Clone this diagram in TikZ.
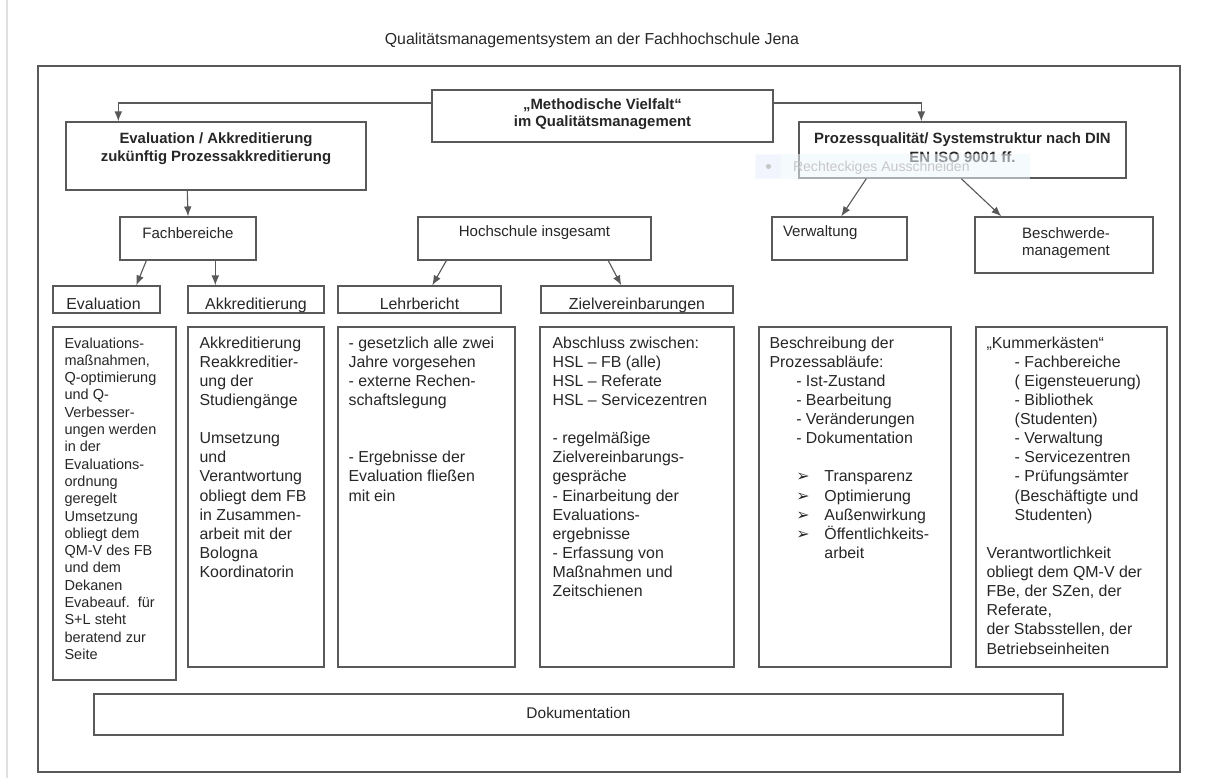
\documentclass[tikz,border=0pt]{standalone}
\usepackage{fontspec}
\setmainfont{Liberation Sans}
\newfontfamily\symfont{DejaVu Sans}
\usepackage{tikz}
\definecolor{linegray}{rgb}{.35, .35, .35}
\definecolor{snipblue}{rgb}{.93, .96, .99}
\usetikzlibrary{calc, fit, arrows.meta, positioning}
\tikzset{basic/.style={draw=linegray,line width=1pt,inner sep=0pt,text=black!85}}
\tikzset{toptext/.style={anchor=north,inner sep=0pt,align=center,text=black!85,font=\bfseries\fontsize{10.6}{12.8}\selectfont}}
\tikzset{level/.style={basic,align=center,font=\fontsize{10.7}{12.1}\selectfont}}
\tikzset{headtext/.style={anchor=base,inner sep=0pt,text=black!85,font=\fontsize{11.3}{13.6}\selectfont}}
\tikzset{body/.style={anchor=north west,inner sep=0pt,align=left,text=black!85,font=\fontsize{11.3}{13.6}\selectfont}}
\newcommand{\ind}{\hspace*{19pt}}
\newcommand{\bul}{\makebox[20pt][l]{\symfont ➢}}

\begin{document}
\begin{tikzpicture}[x=0.025cm,y=-0.025cm,>={Latex[length=7pt,width=5.5pt]}]
\useasboundingbox (0,0) rectangle (1210,778);

% Page edge and title
\draw[black!12,line width=0.8pt] (7,0) -- (7,778);
\node[text=black!85,font=\fontsize{11.3}{13}\selectfont] (title) at (592,40) {Qualitätsmanagementsystem an der Fachhochschule Jena};
\node[basic,fit={(38,66) (1180,772)}] (frame) {};

% Top level
\node[basic,fit={(432,90) (773,142)}] (meth) {};
\node[toptext,font=\bfseries\fontsize{10.6}{12.1}\selectfont] (methtext) at ($(meth.north)+(0,9.5)$) {„Methodische Vielfalt“\\im Qualitätsmanagement};
\node[basic,fit={(66,122) (366,190)}] (evalakk) {};
\node[toptext] (evalakktext) at ($(evalakk.north)+(0,11)$) {Evaluation / Akkreditierung\\zukünftig Prozessakkreditierung};
\node[basic,fit={(799,122) (1126,178)}] (proc) {};
\node[toptext,font=\bfseries\fontsize{10.6}{13.5}\selectfont] (proctext) at ($(proc.north)+(0,11)$) {Prozessqualität/ Systemstruktur nach DIN\\EN ISO 9001 ff.};

% Snipping tool hint over the right box
\node[fill=snipblue,fill opacity=0.55,inner sep=0pt,fit={(755,154) (1030,179)}] (snip) {};
\node[fill=blue!6,fill opacity=0.6,inner sep=0pt,fit={(756,155) (781,178)}] (snipicon) {};
\fill[black!22] (snipicon.center) circle (1.8pt);
\node[anchor=base west,inner sep=0pt,text=black!22,font=\fontsize{10}{12}\selectfont] (sniptext) at ($(snip.south west)+(38,-8)$) {Rechteckiges Ausschneiden};

% Second level
\node[level,fit={(120,217) (256,260)}] (fb) {Fachbereiche};
\node[level,fit={(418,217) (651,260)}] (hs) {Hochschule insgesamt};
\node[basic,fit={(772,217) (907,260)}] (verw) {};
\node[level,draw=none,anchor=base west] (verwtext) at ($(verw.north west)+(11,20)$) {Verwaltung};
\node[basic,fit={(975,217) (1153,273)}] (besch) {};
\node[level,draw=none,anchor=north] (beschtext) at ($(besch.north)+(2,10.5)$) {Beschwerde-\\management};

% Third level
\node[basic,fit={(53,286) (160,313)}] (eval) {};
\node[basic,fit={(188,286) (324,313)}] (akk) {};
\node[basic,fit={(338,286) (501,313)}] (lehr) {};
\node[basic,fit={(541,286) (733,313)}] (ziel) {};
\node[headtext] (evalhead) at ($(eval.south)+(-3,-4.5)$) {Evaluation};
\node[headtext] (akkhead) at ($(akk.south)+(0,-4.5)$) {Akkreditierung};
\node[headtext] (lehrhead) at ($(lehr.south)+(0,-4.5)$) {Lehrbericht};
\node[headtext] (zielhead) at ($(ziel.south)+(0,-4.5)$) {Zielvereinbarungen};

% Content boxes
\node[basic,fit={(53,327) (176,680)}] (evalbox) {};
\node[basic,fit={(188,327) (324,667)}] (akkbox) {};
\node[basic,fit={(338,327) (515,667)}] (lehrbox) {};
\node[basic,fit={(540,327) (734,667)}] (zielbox) {};
\node[basic,fit={(759,327) (951,667)}] (beschrbox) {};
\node[basic,fit={(976,327) (1167,667)}] (kummerbox) {};

% Texts in the content boxes
\node[body,font=\fontsize{10.3}{12.3}\selectfont] (evaltext) at ($(evalbox.north west)+(12,11)$) {Evaluations-\\maßnahmen,\\Q-optimierung\\und Q-\\Verbesser-\\ungen werden\\in der\\Evaluations-\\ordnung\\geregelt\\Umsetzung\\obliegt dem\\QM-V des FB\\und dem\\Dekanen\\Evabeauf.\ \ für\\S+L steht\\beratend zur\\Seite};
\node[body] (akktext) at ($(akkbox.north west)+(12,10)$) {Akkreditierung\\Reakkreditier-\\ung der\\Studiengänge\\[13.6pt]Umsetzung\\und\\Verantwortung\\obliegt dem FB\\in Zusammen-\\arbeit mit der\\Bologna\\Koordinatorin};
\node[body] (lehrtext) at ($(lehrbox.north west)+(11,10)$) {- gesetzlich alle zwei\\Jahre vorgesehen\\- externe Rechen-\\schaftslegung\\[27.2pt]- Ergebnisse der\\Evaluation fließen\\mit ein};
\node[body] (zieltext) at ($(zielbox.north west)+(13,10)$) {Abschluss zwischen:\\HSL – FB (alle)\\HSL – Referate\\HSL – Servicezentren\\[13.6pt]- regelmäßige\\Zielvereinbarungs-\\gespräche\\- Einarbeitung der\\Evaluations-\\ergebnisse\\- Erfassung von\\Maßnahmen und\\Zeitschienen};
\node[body] (beschrtext) at ($(beschrbox.north west)+(11,10)$) {Beschreibung der\\Prozessabläufe:\\\ind- Ist-Zustand\\\ind- Bearbeitung\\\ind- Veränderungen\\\ind- Dokumentation\\[13.6pt]\ind\bul Transparenz\\\ind\bul Optimierung\\\ind\bul Außenwirkung\\\ind\bul Öffentlichkeits-\\\ind\hspace*{20pt}arbeit};
\node[body] (kummertext) at ($(kummerbox.north west)+(11,10)$) {„Kummerkästen“\\\hspace*{20pt}- Fachbereiche\\\hspace*{20pt}( Eigensteuerung)\\\hspace*{20pt}- Bibliothek\\\hspace*{20pt}(Studenten)\\\hspace*{20pt}- Verwaltung\\\hspace*{20pt}- Servicezentren\\\hspace*{20pt}- Prüfungsämter\\\hspace*{20pt}(Beschäftigte und\\\hspace*{20pt}Studenten)\\[13.6pt]Verantwortlichkeit\\obliegt dem QM-V der\\FBe, der SZen, der\\Referate,\\der Stabsstellen, der\\Betriebseinheiten};

% Bottom box
\node[basic,fit={(94,694) (1063,735)}] (dok) {};
\node[headtext,font=\fontsize{11}{13}\selectfont] (doktext) at ($(dok.north)+(0,25.5)$) {Dokumentation};

% Draw lines from the top box
\path[draw,->,linegray,line width=0.8pt] ($(meth.west)+(0,-13)$) -| ($(evalakk.north west)+(53,0)$);
\path[draw,->,linegray,line width=0.8pt] ($(meth.east)+(0,-13)$) -| ($(proc.north west)+(123,0)$);

% Draw lines to the second level
\path[draw,->,linegray,line width=0.8pt] ($(evalakk.south west)+(122,0)$) -- (fb.north);
\path[draw,->,linegray,line width=0.8pt] ($(proc.south west)+(68,0)$) -- ($(verw.north west)+(70,0)$);
\path[draw,->,linegray,line width=0.8pt] ($(proc.south west)+(163,0)$) -- ($(besch.north west)+(27,0)$);

% Draw lines to the third level
\path[draw,->,linegray,line width=0.8pt] ($(fb.south west)+(27,0)$) -- ($(eval.north west)+(84,0)$);
\path[draw,->,linegray,line width=0.8pt] ($(fb.south west)+(96,0)$) -- ($(akk.north west)+(28,0)$);
\path[draw,->,linegray,line width=0.8pt] ($(hs.south west)+(29,0)$) -- ($(lehr.north west)+(95,0)$);
\path[draw,->,linegray,line width=0.8pt] ($(hs.south west)+(191,0)$) -- ($(ziel.north west)+(81,0)$);

\end{tikzpicture}
\end{document}
